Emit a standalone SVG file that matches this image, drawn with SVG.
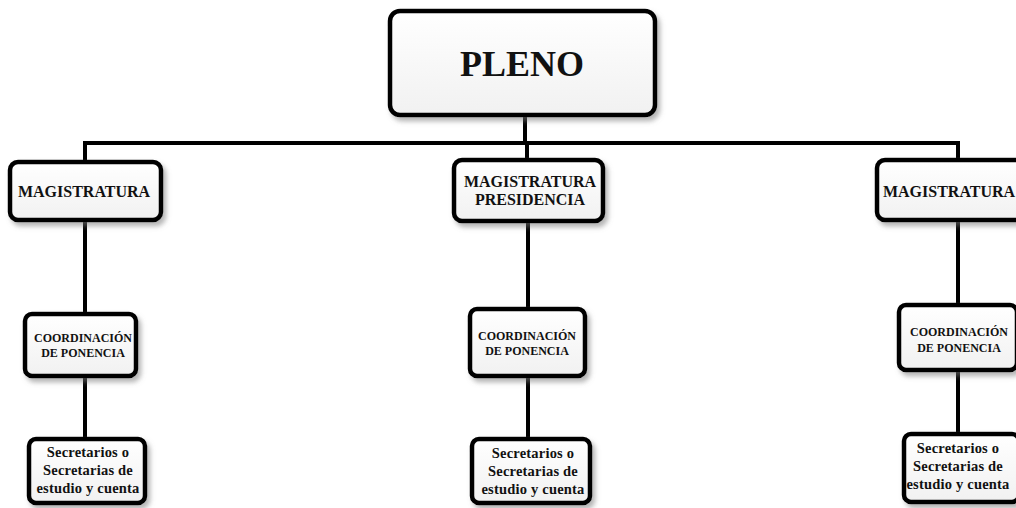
<svg xmlns="http://www.w3.org/2000/svg" width="1016" height="508" viewBox="0 0 1016 508">
<defs>
<linearGradient id="g" x1="0" y1="0" x2="0" y2="1">
<stop offset="0" stop-color="#ffffff"/>
<stop offset="1" stop-color="#f1f1f1"/>
</linearGradient>
<filter id="sh" x="-20%" y="-20%" width="140%" height="150%">
<feDropShadow dx="3" dy="4" stdDeviation="2.5" flood-color="#777" flood-opacity="0.55"/>
</filter>
</defs>
<style>
.box{fill:url(#g);stroke:#000;stroke-width:4.5;filter:url(#sh)}
.t{font-family:"Liberation Serif","Times New Roman",serif;font-weight:bold;fill:#111;text-anchor:middle}
.s{font-size:14.5px;letter-spacing:0.2px}
.k{font-size:12px}
.c{stroke:#000;stroke-width:4;fill:none}
</style>
<rect width="1016" height="508" fill="#fff"/>
<g id="connectors">
<line class="c" x1="525" y1="115" x2="525" y2="143"/>
<line class="c" x1="83" y1="143" x2="960" y2="143"/>
<line class="c" x1="85" y1="141" x2="85" y2="162"/>
<line class="c" x1="527" y1="141" x2="527" y2="160"/>
<line class="c" x1="958" y1="141" x2="958" y2="160"/>
<line class="c" x1="85" y1="220" x2="85" y2="314"/>
<line class="c" x1="85" y1="376" x2="85" y2="439"/>
<line class="c" x1="528" y1="221" x2="528" y2="309"/>
<line class="c" x1="528" y1="376" x2="528" y2="439"/>
<line class="c" x1="958" y1="220" x2="958" y2="305"/>
<line class="c" x1="958" y1="370" x2="958" y2="434"/>
</g>
<g id="pleno">
<rect class="box" x="390" y="11" width="265" height="104" rx="10"/>
<text class="t" x="522" y="76" font-size="36">PLENO</text>
</g>
<g id="mag1">
<rect class="box" x="10" y="162" width="151" height="58" rx="8"/>
<text class="t" x="84" y="197" font-size="16">MAGISTRATURA</text>
</g>
<g id="mag2">
<rect class="box" x="454" y="160" width="149" height="61" rx="8"/>
<text class="t" x="530" y="187" font-size="16">MAGISTRATURA</text>
<text class="t" x="530" y="205" font-size="16">PRESIDENCIA</text>
</g>
<g id="mag3">
<rect class="box" x="877" y="160" width="150" height="60" rx="8"/>
<text class="t" x="949" y="197" font-size="16">MAGISTRATURA</text>
</g>
<g id="coord1">
<rect class="box" x="25" y="314" width="111" height="62" rx="7"/>
<text class="t k" x="83" y="342">COORDINACIÓN</text>
<text class="t k" x="83" y="357">DE PONENCIA</text>
</g>
<g id="coord2">
<rect class="box" x="470" y="309" width="115" height="67" rx="7"/>
<text class="t k" x="527" y="340">COORDINACIÓN</text>
<text class="t k" x="527" y="355">DE PONENCIA</text>
</g>
<g id="coord3">
<rect class="box" x="899" y="305" width="118" height="65" rx="7"/>
<text class="t k" x="959" y="336">COORDINACIÓN</text>
<text class="t k" x="959" y="352">DE PONENCIA</text>
</g>
<g id="sec1">
<rect class="box" x="29" y="439" width="116" height="64" rx="7"/>
<text class="t s" x="88" y="457">Secretarios o</text>
<text class="t s" x="88" y="475">Secretarias de</text>
<text class="t s" x="88" y="493">estudio y cuenta</text>
</g>
<g id="sec2">
<rect class="box" x="472" y="439" width="118" height="64" rx="7"/>
<text class="t s" x="533" y="458">Secretarios o</text>
<text class="t s" x="533" y="476">Secretarias de</text>
<text class="t s" x="533" y="494">estudio y cuenta</text>
</g>
<g id="sec3">
<rect class="box" x="904" y="434" width="115" height="68" rx="7"/>
<text class="t s" x="958" y="453">Secretarios o</text>
<text class="t s" x="958" y="471">Secretarias de</text>
<text class="t s" x="958" y="489">estudio y cuenta</text>
</g>
</svg>
